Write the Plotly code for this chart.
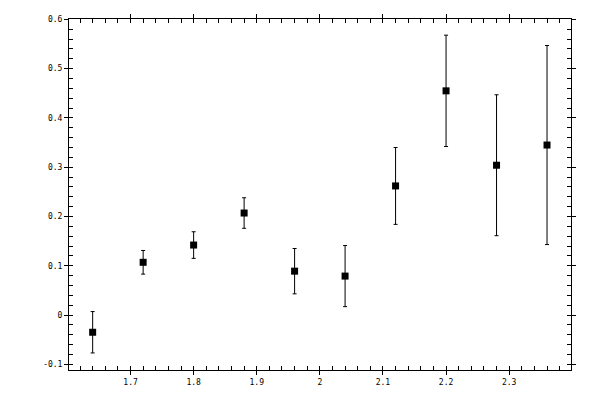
# Error-bar scatter, boxed axes with crossing ticks
import plotly.graph_objects as go

# data
x_vals = [1.64, 1.72, 1.80, 1.88, 1.96, 2.04, 2.12, 2.20, 2.28, 2.36]
y_vals = [-0.035, 0.107, 0.142, 0.207, 0.089, 0.079, 0.262, 0.455, 0.304, 0.345]
y_err = [0.042, 0.024, 0.027, 0.031, 0.046, 0.062, 0.078, 0.113, 0.143, 0.202]

x_ticks = [1.7, 1.8, 1.9, 2.0, 2.1, 2.2, 2.3]
x_labels = ['1.7', '1.8', '1.9', '2', '2.1', '2.2', '2.3']
y_ticks = [-0.1, 0, 0.1, 0.2, 0.3, 0.4, 0.5, 0.6]
y_labels = ['-0.1', '0', '0.1', '0.2', '0.3', '0.4', '0.5', '0.6']

x_range = [1.6025, 2.398]
y_range = [-0.1116, 0.6008]

fig = go.Figure()

fig.add_trace(go.Scatter(
    x=x_vals, y=y_vals,
    mode='markers',
    marker=dict(symbol='square', size=7, color='black'),
    error_y=dict(type='data', array=y_err, visible=True,
                 color='black', thickness=1, width=2),
    hoverinfo='x+y',
))

# invisible copy on overlay axes, only there to draw the outer half of the major ticks
fig.add_trace(go.Scatter(
    x=x_vals, y=y_vals, xaxis='x2', yaxis='y2',
    mode='markers', marker=dict(opacity=0), hoverinfo='skip',
))

font = dict(family='DejaVu Sans Mono', size=8, color='black')

inner = dict(
    showline=True, linecolor='black', linewidth=1,
    mirror='ticks', ticks='inside', ticklen=4, tickwidth=1,
    tickcolor='black', showgrid=False, zeroline=False,
    tickmode='array', tickfont=font, automargin=False,
)
outer = dict(
    showline=False, mirror='ticks', ticks='outside', ticklen=4,
    tickwidth=1, tickcolor='black', showgrid=False, zeroline=False,
    showticklabels=False, tickmode='array', automargin=False,
)

# page body adds an 8px margin, so the figure is 8px smaller each way
fig.update_layout(
    width=592, height=392,
    margin=dict(l=61, r=29, t=11, b=30),
    paper_bgcolor='white', plot_bgcolor='white',
    showlegend=False,
    xaxis=dict(inner, range=x_range, tickvals=x_ticks, ticktext=x_labels,
               ticklabelstandoff=4,
               minor=dict(ticks='inside', ticklen=4, tickcolor='black',
                          dtick=0.02, tick0=0, showgrid=False)),
    yaxis=dict(inner, range=y_range, tickvals=y_ticks, ticktext=y_labels,
               ticklabelstandoff=4,
               minor=dict(ticks='inside', ticklen=4, tickcolor='black',
                          dtick=0.02, tick0=0, showgrid=False)),
    xaxis2=dict(outer, range=x_range, tickvals=x_ticks, overlaying='x',
                anchor='y2'),
    yaxis2=dict(outer, range=y_range, tickvals=y_ticks, overlaying='y',
                anchor='x2'),
)

fig.write_html("out.html")
